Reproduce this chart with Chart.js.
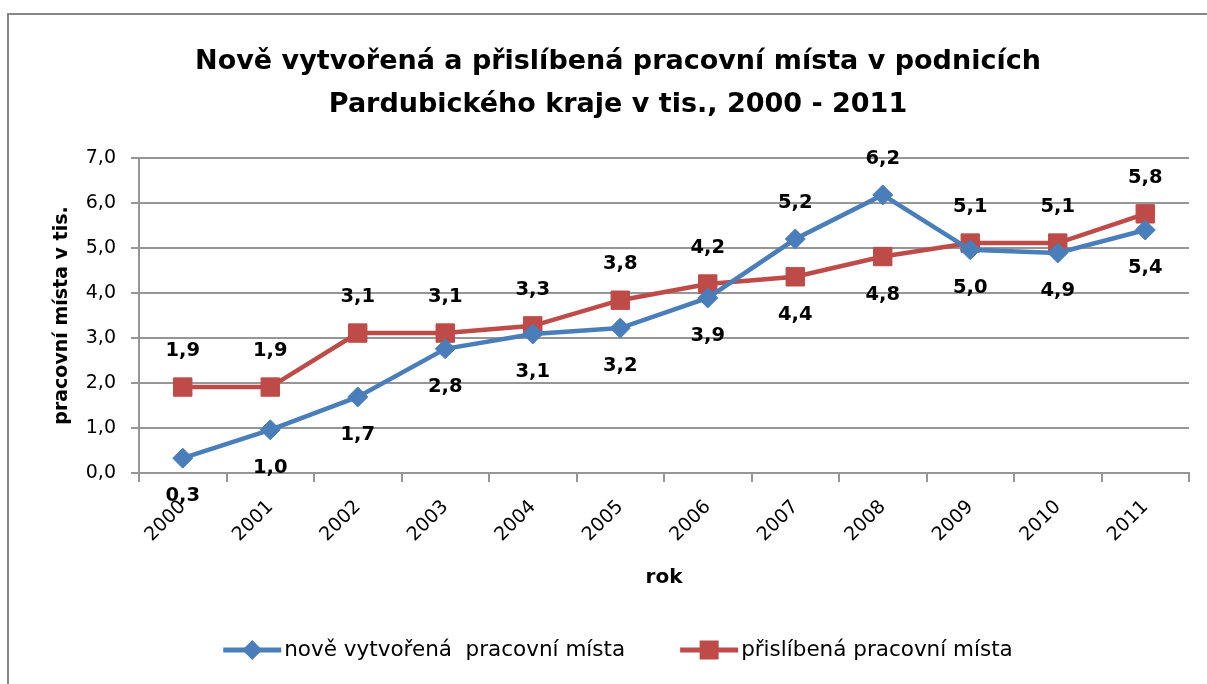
<!DOCTYPE html>
<html>
<head>
<meta charset="utf-8">
<script src="https://cdn.jsdelivr.net/npm/chart.js@4"></script>
<style>
html,body{margin:0;padding:0;background:#fff;overflow:hidden;}
#wrap{width:1207px;height:684px;position:relative;}
</style>
</head>
<body>
<div id="wrap"><canvas id="c" width="1207" height="684"></canvas></div>
<script>
// ---- data ----
const categories = ['2000','2001','2002','2003','2004','2005','2006','2007','2008','2009','2010','2011'];
const noveVytvorena = [0.33, 0.96, 1.69, 2.76, 3.09, 3.22, 3.89, 5.20, 6.18, 4.96, 4.89, 5.40];
const prislibena   = [1.91, 1.91, 3.11, 3.11, 3.27, 3.84, 4.20, 4.36, 4.81, 5.11, 5.11, 5.76];
const yTickValues = [0, 1, 2, 3, 4, 5, 6, 7];
const seriesLabels = ['nově vytvořená  pracovní místa', 'přislíbená pracovní místa'];
const chartTitle = ['Nově vytvořená a přislíbená pracovní místa v podnicích', 'Pardubického kraje v tis., 2000 - 2011'];
const yAxisTitle = 'pracovní místa v tis.';
const xAxisTitle = 'rok';

// ---- styling ----
const FONT = '"DejaVu Sans", sans-serif';
const BLUE = '#4A7EBB';
const RED = '#BE4B48';
const GRID = '#969696';
const fmt = v => v.toFixed(1).replace('.', ',');

Chart.defaults.font.family = FONT;
Chart.defaults.color = '#000';

const PAD_L = 47, PAD_R = 18;

const framePlugin = {
  id: 'frame',
  beforeDraw(chart) {
    const ctx = chart.ctx;
    ctx.save();
    ctx.fillStyle = '#fff';
    ctx.fillRect(0, 0, chart.width, chart.height);
    ctx.strokeStyle = '#878787';
    ctx.lineWidth = 2;
    ctx.beginPath();
    ctx.moveTo(8, chart.height);
    ctx.lineTo(8, 14);
    ctx.lineTo(chart.width, 14);
    ctx.stroke();
    ctx.restore();
  }
};

const dataLabelPlugin = {
  id: 'dataLabels',
  afterDatasetsDraw(chart) {
    const ctx = chart.ctx;
    const ds = chart.data.datasets;
    ctx.save();
    ctx.font = 'bold 19.5px ' + FONT;
    ctx.fillStyle = '#000';
    ctx.textAlign = 'center';
    ctx.textBaseline = 'middle';
    ds.forEach((d, i) => {
      const other = ds[1 - i].data;
      chart.getDatasetMeta(i).data.forEach((el, j) => {
        const above = d.data[j] >= other[j];
        ctx.fillText(fmt(d.data[j]), el.x, el.y + (above ? -36 : 38));
      });
    });
    ctx.restore();
  }
};

const legendPlugin = {
  id: 'customLegend',
  afterDraw(chart) {
    const ctx = chart.ctx;
    const ds = chart.data.datasets;
    ctx.save();
    ctx.font = '21.5px ' + FONT;
    ctx.textBaseline = 'middle';
    ctx.textAlign = 'left';
    const sample = 58, gapText = 3, gapItem = 55;
    const widths = ds.map(d => ctx.measureText(d.label).width);
    let total = 0;
    widths.forEach((w, i) => { total += sample + gapText + w + (i < widths.length - 1 ? gapItem : 0); });
    const cx = (PAD_L + chart.width - PAD_R) / 2;
    let x = cx - total / 2;
    const y = 650;
    ds.forEach((d, i) => {
      ctx.strokeStyle = d.borderColor;
      ctx.lineWidth = 5;
      ctx.beginPath();
      ctx.moveTo(x, y); ctx.lineTo(x + sample, y);
      ctx.stroke();
      const mx = x + sample / 2;
      ctx.fillStyle = d.pointBackgroundColor;
      ctx.beginPath();
      if (d.pointStyle === 'rectRot') {
        const r = 10;
        ctx.moveTo(mx - r, y); ctx.lineTo(mx, y - r); ctx.lineTo(mx + r, y); ctx.lineTo(mx, y + r);
        ctx.closePath();
      } else {
        ctx.rect(mx - 9.5, y - 9.5, 19, 19);
      }
      ctx.fill();
      ctx.fillStyle = '#000';
      ctx.fillText(d.label, x + sample + gapText, y);
      x += sample + gapText + widths[i] + gapItem;
    });
    ctx.restore();
  }
};

new Chart(document.getElementById('c'), {
  type: 'line',
  data: {
    labels: categories,
    datasets: [
      {
        label: seriesLabels[0],
        data: noveVytvorena,
        borderColor: BLUE,
        backgroundColor: BLUE,
        pointBackgroundColor: BLUE,
        pointBorderColor: BLUE,
        borderWidth: 4.5,
        pointStyle: 'rectRot',
        pointRadius: 10,
        pointBorderWidth: 1,
        tension: 0,
        clip: false
      },
      {
        label: seriesLabels[1],
        data: prislibena,
        borderColor: RED,
        backgroundColor: RED,
        pointBackgroundColor: RED,
        pointBorderColor: RED,
        borderWidth: 4.5,
        pointStyle: 'rect',
        pointRadius: 13,
        pointBorderWidth: 1,
        tension: 0,
        clip: false
      }
    ]
  },
  options: {
    responsive: false,
    animation: false,
    devicePixelRatio: 1,
    layout: { padding: { left: PAD_L, right: PAD_R, top: 0, bottom: 0 } },
    plugins: {
      legend: { display: false },
      tooltip: { enabled: false },
      title: {
        display: true,
        text: chartTitle,
        color: '#000',
        font: { family: FONT, size: 27, weight: 'bold', lineHeight: 1.593 },
        padding: { top: 40, bottom: 32 }
      }
    },
    scales: {
      x: {
        type: 'category',
        offset: true,
        grid: { offset: true, drawOnChartArea: false, drawTicks: true, tickLength: 9, color: GRID, lineWidth: 2 },
        border: { color: GRID, width: 2 },
        ticks: { minRotation: 45, maxRotation: 45, font: { size: 19 }, color: '#000', padding: 14, autoSkip: false },
        title: { display: true, text: xAxisTitle, color: '#000', font: { size: 20, weight: 'bold', lineHeight: 1.2 }, padding: { top: 0, bottom: 94 } },
        afterFit: s => { s.height = 211; }
      },
      y: {
        min: 0, max: 7,
        afterBuildTicks: s => { s.ticks = yTickValues.map(v => ({ value: v })); },
        grid: { color: GRID, lineWidth: 2, drawTicks: true, tickLength: 8 },
        border: { color: GRID, width: 2 },
        ticks: { callback: v => fmt(v), font: { size: 19 }, color: '#000', padding: 15 },
        title: { display: true, text: yAxisTitle, color: '#000', font: { size: 19, weight: 'bold', lineHeight: 1.2 }, padding: { top: 4, bottom: 0 } },
        afterFit: s => { s.width = 92; }
      }
    }
  },
  plugins: [framePlugin, dataLabelPlugin, legendPlugin]
});
</script>
</body>
</html>
